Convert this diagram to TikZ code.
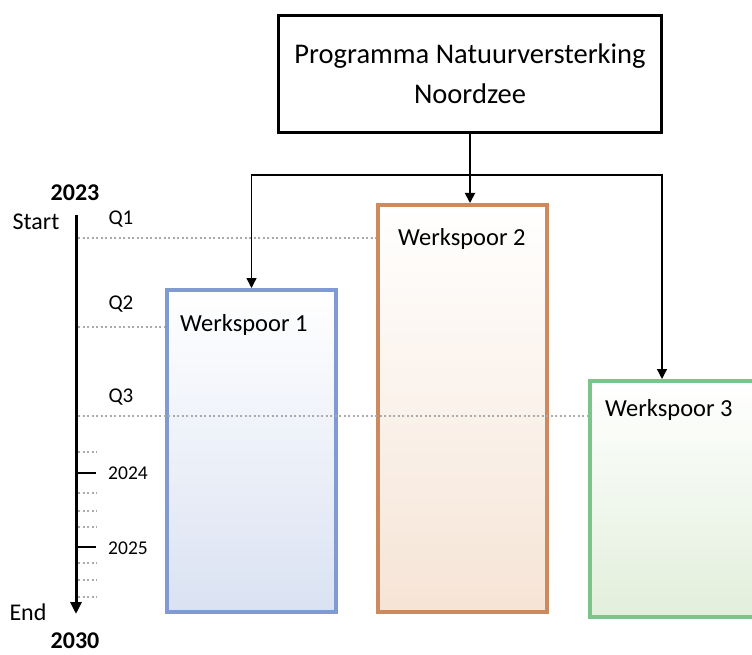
\documentclass[tikz,border=0pt]{standalone}
\usepackage{fontspec}
\setmainfont{Carlito}
\usetikzlibrary{arrows.meta}
\definecolor{wsblue}{RGB}{127,155,210}
\definecolor{wsbluefill}{RGB}{218,226,242}
\definecolor{wsorange}{RGB}{204,138,94}
\definecolor{wsorangefill}{RGB}{246,228,214}
\definecolor{wsgreen}{RGB}{125,196,138}
\definecolor{wsgreenfill}{RGB}{226,239,219}
\definecolor{qgray}{RGB}{170,170,170}
\tikzset{
  progbox/.style={draw, line width=3.5pt, inner sep=0pt, minimum width=383pt, minimum height=117pt,
    align=center, font=\fontsize{28.5}{40}\selectfont},
  wsbox/.style={line width=4pt, top color=white, inner sep=0pt},
  wslabel/.style={anchor=west, inner sep=0pt, font=\fontsize{24.5}{28}\selectfont},
  conn/.style={line width=1.3pt, -{Triangle[length=10pt,width=10pt]}},
  qline/.style={qgray, line width=1.5pt, dash pattern=on 2pt off 2.5pt},
  yeartick/.style={line width=2.5pt},
  timetext/.style={inner sep=0pt, font=\fontsize{24}{28}\selectfont},
  qtext/.style={inner sep=0pt, font=\fontsize{21}{24}\selectfont},
  yeartext/.style={inner sep=0pt, font=\fontsize{19.5}{24}\selectfont}
}
\begin{document}
\begin{tikzpicture}[x=1pt, y=-1pt]
\useasboundingbox (0,0) rectangle (752,655);
\node[progbox] (prog) at (470,74) {Programma Natuurversterking\\Noordzee};
\node[wsbox, draw=wsblue, bottom color=wsbluefill, minimum width=169pt, minimum height=322pt] (ws1) at (251.5,451) {};
\node[wsbox, draw=wsorange, bottom color=wsorangefill, minimum width=169pt, minimum height=407pt] (ws2) at (462.5,408.5) {};
\node[wsbox, draw=wsgreen, bottom color=wsgreenfill, minimum width=200pt, minimum height=236pt] (ws3) at (690,499) {};
\node[wslabel] (ws1text) at ([shift={(15,37)}]ws1.north west) {Werkspoor 1};
\node[wslabel] (ws2text) at ([shift={(22,36)}]ws2.north west) {Werkspoor 2};
\node[wslabel] (ws3text) at ([shift={(17,31)}]ws3.north west) {Werkspoor 3};
\coordinate (split) at (470,175);
\draw[conn, line width=1.8pt] (prog.south) -- (prog.south |- ws2.north);
\draw[conn] (split) -| (ws1.north);
\draw[conn] (split) -| ([xshift=74pt]ws3.north west);
\coordinate (tltop) at (76,215);
\coordinate (tlend) at (76,614);
\draw[line width=3pt, -{Triangle[length=12pt,width=11pt]}] (tltop) -- (tlend);
\node[timetext, font=\bfseries\fontsize{24}{28}\selectfont] (y2023) at (75,193) {2023};
\node[timetext] (start) at (36,222) {Start};
\node[timetext] (end) at (28,612) {End};
\node[timetext, font=\bfseries\fontsize{24}{28}\selectfont] (y2030) at (75,641) {2030};
\coordinate (q1) at (78,238);
\coordinate (q2) at (78,327);
\coordinate (q3) at (78,416);
\draw[qline] (q1) -- (q1 -| ws2.west);
\draw[qline] (q2) -- (q2 -| ws1.west);
\draw[qline] (q3) -- (q3 -| ws3.west);
\node[qtext] (q1text) at (121,219) {Q1};
\node[qtext] (q2text) at (121,304) {Q2};
\node[qtext] (q3text) at (121,397) {Q3};
\foreach \y in {452,493,511,527,563,580,597}
  \draw[qline] (78,\y) -- (97,\y);
\coordinate (t2024) at (76,473);
\coordinate (t2025) at (76,547);
\draw[yeartick] (t2024) -- ++(20,0);
\draw[yeartick] (t2025) -- ++(20,0);
\node[yeartext] (y2024) at (128,473) {2024};
\node[yeartext] (y2025) at (128,548) {2025};
\end{tikzpicture}
\end{document}
